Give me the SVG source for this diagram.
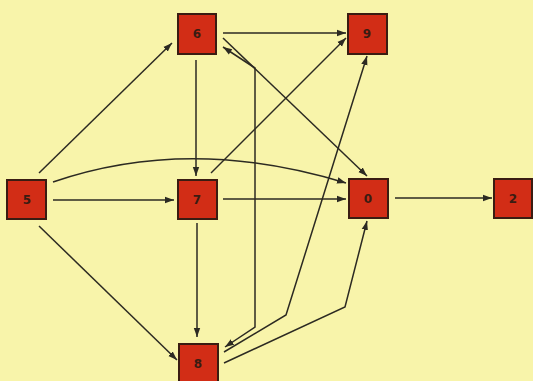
<svg xmlns="http://www.w3.org/2000/svg" width="533" height="381" viewBox="0 0 533 381">
<style>
.bg{fill:#f8f4aa}
.node rect{fill:#d22d16;stroke:#3a1c12;stroke-width:2}
.node text{font-family:"DejaVu Sans","Liberation Sans",sans-serif;font-weight:bold;font-size:12px;fill:#3a1c12;text-anchor:middle;dominant-baseline:central}
.edge{fill:none;stroke:#2c2a22;stroke-width:1.5;marker-end:url(#ah)}
.both{marker-start:url(#as)}
</style>
<defs>
<marker id="ah" markerUnits="userSpaceOnUse" markerWidth="10" markerHeight="8" refX="9" refY="4" orient="auto">
<path d="M0,0.8 L9,4 L0,7.2 Z" fill="#2c2a22"/>
</marker>
<marker id="as" markerUnits="userSpaceOnUse" markerWidth="10" markerHeight="8" refX="0" refY="4" orient="auto">
<path d="M9,0.8 L0,4 L9,7.2 Z" fill="#2c2a22"/>
</marker>
</defs>
<rect class="bg" x="0" y="0" width="533" height="381"/>
<g id="connectors">
<path class="edge" d="M39,173 L172,43"/>
<path class="edge" d="M53,200 L174,200"/>
<path class="edge" d="M39,226 L177,360"/>
<path class="edge" d="M53,182 Q190,135 346,183"/>
<path class="edge" d="M223,33 L346,33"/>
<path class="edge" d="M196,60 L196,176"/>
<path class="edge" d="M223,38 L367,176"/>
<path class="edge both" d="M223,47 L255,68 L255,327 L225,347"/>
<path class="edge" d="M211,173 L346,38"/>
<path class="edge" d="M223,199 L346,199"/>
<path class="edge" d="M197,223 L197,337"/>
<path class="edge" d="M395,198 L492,198"/>
<path class="edge" d="M224,352 L286,315 L367,56"/>
<path class="edge" d="M224,363 L345,307 L367,221"/>
</g>
<g id="node-6" class="node"><rect x="178" y="14" width="38" height="40"/><text x="197" y="34">6</text></g>
<g id="node-9" class="node"><rect x="348" y="14" width="39" height="40"/><text x="367" y="34">9</text></g>
<g id="node-5" class="node"><rect x="7" y="180" width="39" height="39"/><text x="27" y="200">5</text></g>
<g id="node-7" class="node"><rect x="178" y="180" width="39" height="39"/><text x="197" y="200">7</text></g>
<g id="node-0" class="node"><rect x="349" y="179" width="39" height="39"/><text x="368" y="199">0</text></g>
<g id="node-2" class="node"><rect x="494" y="179" width="38" height="39"/><text x="513" y="199">2</text></g>
<g id="node-8" class="node"><rect x="179" y="344" width="39" height="40"/><text x="198" y="364">8</text></g>
</svg>
